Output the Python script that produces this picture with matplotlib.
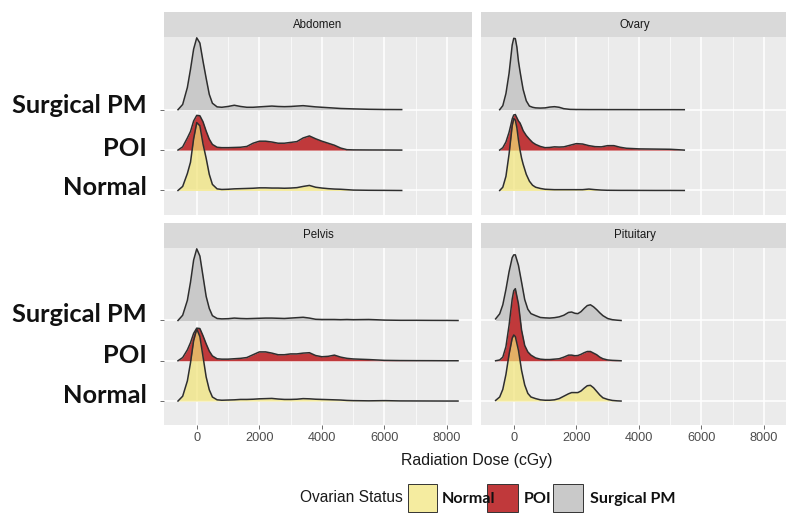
import matplotlib
matplotlib.use("Agg")
import matplotlib.pyplot as plt
from matplotlib.patches import Rectangle

# ---------------------------------------------------------------------------
# Ridge heights (in ridge units) sampled along radiation dose (cGy)
# ---------------------------------------------------------------------------
status_levels = ["Normal", "POI", "Surgical PM"]
dose_ticks = [0, 2000, 4000, 6000, 8000]

abdomen_dose = [-600, -450, -300, -200, -100, 0, 100, 200, 300, 400, 500, 650, 800,
                1000, 1200, 1400, 1600, 1800, 2000, 2200, 2400, 2600, 2800, 3000,
                3200, 3400, 3600, 3800, 4000, 4200, 4400, 4600, 4800, 5000, 5500,
                6000, 6550]
abdomen_surgical = [0.0, 0.13, 0.55, 1.0, 1.5, 1.78, 1.65, 1.2, 0.78, 0.38, 0.16, 0.07,
                    0.06, 0.08, 0.11, 0.08, 0.06, 0.06, 0.07, 0.08, 0.09, 0.08, 0.075,
                    0.08, 0.09, 0.1, 0.085, 0.07, 0.06, 0.05, 0.04, 0.03, 0.025, 0.02,
                    0.01, 0.005, 0.003]
abdomen_poi = [0.0, 0.08, 0.3, 0.46, 0.72, 0.86, 0.85, 0.7, 0.47, 0.27, 0.14, 0.07,
               0.06, 0.06, 0.065, 0.07, 0.09, 0.17, 0.22, 0.22, 0.2, 0.17, 0.17, 0.19,
               0.21, 0.3, 0.35, 0.28, 0.22, 0.17, 0.12, 0.05, 0.01, 0.005, 0.003,
               0.002, 0.0]
abdomen_normal = [0.0, 0.1, 0.42, 0.7, 1.28, 1.68, 1.6, 1.15, 0.8, 0.4, 0.15, 0.04,
                  0.025, 0.03, 0.04, 0.045, 0.05, 0.055, 0.065, 0.065, 0.06, 0.06,
                  0.055, 0.06, 0.07, 0.1, 0.125, 0.08, 0.06, 0.045, 0.035, 0.03, 0.02,
                  0.01, 0.005, 0.003, 0.0]

ovary_dose = [-450, -350, -250, -150, -100, -50, 0, 50, 100, 150, 200, 250, 300, 400,
              500, 600, 700, 850, 1000, 1150, 1300, 1450, 1600, 1800, 2000, 2200,
              2400, 2600, 2800, 3000, 3200, 3400, 3600, 4000, 4500, 5000, 5450]
ovary_surgical = [0.0, 0.1, 0.4, 0.9, 1.25, 1.6, 1.77, 1.76, 1.55, 1.2, 0.95, 0.72,
                  0.5, 0.22, 0.09, 0.06, 0.045, 0.04, 0.045, 0.065, 0.075, 0.06,
                  0.025, 0.008, 0.005, 0.004, 0.003, 0.003, 0.003, 0.002, 0.002,
                  0.002, 0.002, 0.001, 0.001, 0.001, 0.0]
ovary_poi = [0.0, 0.06, 0.2, 0.44, 0.6, 0.77, 0.87, 0.88, 0.8, 0.72, 0.67, 0.58,
             0.48, 0.36, 0.27, 0.19, 0.14, 0.09, 0.06, 0.065, 0.08, 0.075, 0.08,
             0.12, 0.16, 0.15, 0.11, 0.085, 0.08, 0.11, 0.11, 0.07, 0.045, 0.03,
             0.025, 0.02, 0.0]
ovary_normal = [0.0, 0.08, 0.35, 0.9, 1.25, 1.6, 1.78, 1.74, 1.55, 1.25, 1.0, 0.8,
                0.65, 0.4, 0.23, 0.13, 0.08, 0.05, 0.03, 0.025, 0.02, 0.02, 0.02,
                0.02, 0.02, 0.02, 0.035, 0.02, 0.01, 0.005, 0.004, 0.003, 0.003,
                0.002, 0.001, 0.001, 0.0]

pelvis_dose = [-600, -450, -300, -200, -100, 0, 100, 200, 300, 400, 500, 650, 800,
               1000, 1200, 1400, 1600, 1800, 2000, 2200, 2400, 2600, 2800, 3000,
               3200, 3400, 3600, 3800, 4000, 4200, 4400, 4600, 4800, 5000, 5500,
               6000, 6500, 7000, 7500, 8000, 8350]
pelvis_surgical = [0.0, 0.13, 0.5, 0.95, 1.5, 1.78, 1.6, 1.1, 0.6, 0.3, 0.12, 0.05,
                   0.04, 0.045, 0.06, 0.05, 0.045, 0.05, 0.055, 0.06, 0.06, 0.055,
                   0.05, 0.06, 0.07, 0.08, 0.06, 0.03, 0.025, 0.025, 0.025, 0.02,
                   0.025, 0.02, 0.025, 0.01, 0.005, 0.005, 0.003, 0.002, 0.0]
pelvis_poi = [0.0, 0.08, 0.27, 0.45, 0.68, 0.81, 0.8, 0.62, 0.42, 0.24, 0.12, 0.05,
              0.04, 0.04, 0.05, 0.06, 0.08, 0.15, 0.22, 0.22, 0.19, 0.15, 0.15, 0.17,
              0.17, 0.19, 0.2, 0.13, 0.1, 0.11, 0.14, 0.09, 0.06, 0.045, 0.03, 0.01,
              0.005, 0.003, 0.002, 0.0, 0.0]
pelvis_normal = [0.0, 0.12, 0.5, 0.95, 1.5, 1.79, 1.6, 1.1, 0.6, 0.28, 0.1, 0.03,
                 0.02, 0.025, 0.03, 0.04, 0.04, 0.045, 0.055, 0.06, 0.065, 0.05,
                 0.04, 0.04, 0.045, 0.06, 0.055, 0.045, 0.04, 0.035, 0.03, 0.025,
                 0.015, 0.01, 0.005, 0.01, 0.003, 0.002, 0.001, 0.0, 0.0]

pituitary_dose = [-580, -450, -350, -250, -150, -50, 0, 50, 150, 250, 350, 450, 550,
                  700, 850, 1000, 1150, 1300, 1450, 1600, 1750, 1850, 1950, 2050,
                  2150, 2250, 2350, 2450, 2550, 2650, 2750, 2850, 3000, 3150, 3300,
                  3430]
pituitary_surgical = [0.04, 0.165, 0.39, 0.77, 1.21, 1.56, 1.63, 1.63, 1.37, 0.95,
                      0.52, 0.28, 0.17, 0.12, 0.075, 0.065, 0.06, 0.07, 0.09, 0.13,
                      0.2, 0.21, 0.18, 0.17, 0.22, 0.3, 0.37, 0.39, 0.34, 0.27, 0.19,
                      0.12, 0.05, 0.02, 0.008, 0.0]
pituitary_poi = [0.0, 0.02, 0.09, 0.35, 0.88, 1.53, 1.74, 1.79, 1.41, 0.76, 0.38,
                 0.22, 0.14, 0.07, 0.04, 0.03, 0.03, 0.04, 0.05, 0.09, 0.14, 0.14,
                 0.125, 0.13, 0.16, 0.2, 0.23, 0.23, 0.19, 0.15, 0.09, 0.05, 0.02,
                 0.01, 0.005, 0.0]
pituitary_normal = [0.015, 0.1, 0.29, 0.66, 1.16, 1.56, 1.64, 1.6, 1.26, 0.76, 0.4,
                    0.19, 0.1, 0.06, 0.03, 0.02, 0.02, 0.03, 0.06, 0.12, 0.18, 0.21,
                    0.21, 0.21, 0.25, 0.32, 0.38, 0.39, 0.33, 0.24, 0.15, 0.08, 0.04,
                    0.015, 0.005, 0.0]

panels = [
    ("Abdomen", abdomen_dose, [abdomen_normal, abdomen_poi, abdomen_surgical]),
    ("Ovary", ovary_dose, [ovary_normal, ovary_poi, ovary_surgical]),
    ("Pelvis", pelvis_dose, [pelvis_normal, pelvis_poi, pelvis_surgical]),
    ("Pituitary", pituitary_dose, [pituitary_normal, pituitary_poi, pituitary_surgical]),
]

# ---------------------------------------------------------------------------
# Styling
# ---------------------------------------------------------------------------
fill_colors = {"Normal": "#F2E477", "POI": "#C0393B", "Surgical PM": "#C9C9C9"}
fill_alpha = {"Normal": 0.7, "POI": 1.0, "Surgical PM": 1.0}
legend_colors = {"Normal": "#F5ECA0", "POI": "#C0393B", "Surgical PM": "#C9C9C9"}
line_color = "#2E2E2E"
panel_bg = "#EBEBEB"
strip_bg = "#D9D9D9"
axis_font = "Liberation Sans"
label_font = "Lato"

W, H = 786, 513
fig = plt.figure(figsize=(W / 100, H / 100), dpi=100)


def box(x0, y0, x1, y1):
    return [x0 / W, 1 - y1 / H, (x1 - x0) / W, (y1 - y0) / H]


col_px = [(164, 472), (481, 789)]
row_px = [((12.3, 37), (37, 214.5)), ((222.7, 248), (248, 425))]
xlim = (-1047, 8797)
ylim = (0.405, 4.80)

for idx, (name, dose, series) in enumerate(panels):
    r, c = divmod(idx, 2)
    x0, x1 = col_px[c]
    (s0, s1), (p0, p1) = row_px[r]

    # facet strip
    sax = fig.add_axes(box(x0, s0, x1, s1))
    sax.set_facecolor(strip_bg)
    sax.set_xticks([])
    sax.set_yticks([])
    for sp in sax.spines.values():
        sp.set_visible(False)
    sax.text(0.5, 0.5, name, ha="center", va="center", fontsize=8.3,
             color="#1A1A1A", family=axis_font, transform=sax.transAxes)

    # panel
    ax = fig.add_axes(box(x0, p0, x1, p1))
    ax.set_facecolor(panel_bg)
    for sp in ax.spines.values():
        sp.set_visible(False)
    ax.set_xlim(*xlim)
    ax.set_ylim(*ylim)
    ax.set_xticks(dose_ticks)
    ax.set_xticks([1000, 3000, 5000, 7000], minor=True)
    ax.set_yticks([1, 2, 3])
    ax.grid(True, which="major", color="white", linewidth=1.1, zorder=0)
    ax.grid(True, which="minor", axis="x", color="white", linewidth=0.5, zorder=0)
    ax.set_axisbelow(True)
    ax.tick_params(which="minor", length=0)
    ax.tick_params(which="major", color="#333333", width=0.5, length=2.75,
                   labelcolor="#4D4D4D", labelsize=9.2, pad=2.2)
    ax.set_yticklabels([])
    if c == 1:
        ax.tick_params(axis="y", length=0)
    if r == 0:
        ax.tick_params(axis="x", length=0, labelbottom=False)
    else:
        ax.set_xticklabels([str(t) for t in dose_ticks], family=axis_font)

    # ridges: top level first so lower ridges overlay the upper ones
    for level in (3, 2, 1):
        status = status_levels[level - 1]
        heights = series[level - 1]
        z = 10 + (4 - level) * 2
        top = [level + h for h in heights]
        ax.fill_between(dose, level, top, color=fill_colors[status],
                        alpha=fill_alpha[status], linewidth=0, zorder=z)
        ax.plot(dose, top, color=line_color, linewidth=1.1, zorder=z + 1,
                solid_joinstyle="round")

# row labels for ovarian status
label_rows = [(105.5, 149, 187.5), (315, 355.5, 395.5)]
for rows in label_rows:
    for text, ypx in zip(["Surgical PM", "POI", "Normal"], rows):
        fig.text(147 / W, 1 - ypx / H, text, ha="right", va="center",
                 fontsize=18.3, fontweight="bold", family=label_font, color="#111111")

# axis title
fig.text(476.5 / W, 1 - 460 / H, "Radiation Dose (cGy)", ha="center", va="center",
         fontsize=11.4, family=axis_font, color="#1A1A1A")

# legend
fig.text(300 / W, 1 - 498 / H, "Ovarian Status", ha="left", va="center",
         fontsize=11.2, family=axis_font, color="#1A1A1A")
legend_items = [("Normal", 408, 437, 442), ("POI", 487, 518, 524),
                ("Surgical PM", 553, 583, 590)]
for status, bx0, bx1, tx in legend_items:
    fig.patches.append(Rectangle((bx0 / W, 1 - 512 / H), (bx1 - bx0) / W, 28 / H,
                                 transform=fig.transFigure, facecolor=legend_colors[status],
                                 edgecolor="#333333", linewidth=0.7))
    fig.text(tx / W, 1 - 499 / H, status, ha="left", va="center", fontsize=11.6,
             fontweight="bold", family=label_font, color="#111111")

fig.savefig("out.png", dpi=100, facecolor="white")
